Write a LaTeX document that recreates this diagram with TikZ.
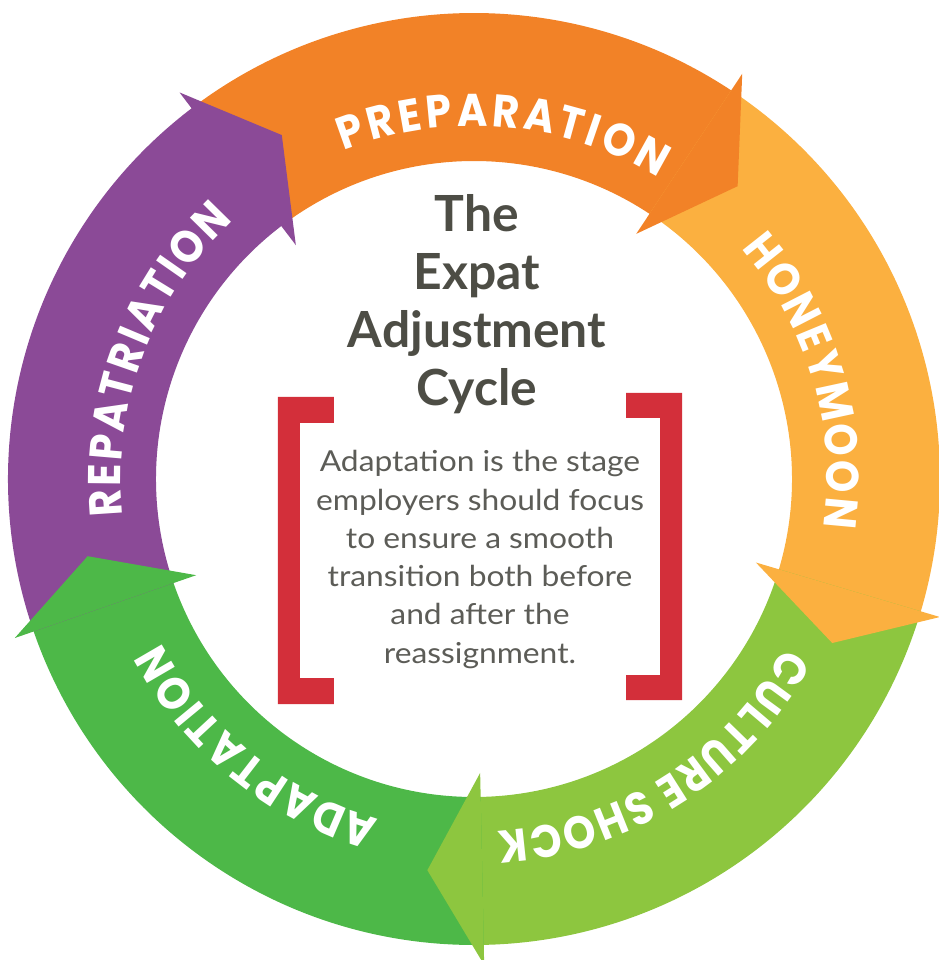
\documentclass[tikz,border=0pt]{standalone}
\usepackage{fontspec}
\usetikzlibrary{decorations.text}
\newfontfamily\ringfont{Poppins}[FakeStretch=0.9]
\newfontfamily\blurbfont{Lato}
\newfontfamily\notefont{Lato}[FakeStretch=1.1]

\definecolor{prepclr}{RGB}{242,130,39}
\definecolor{honeyclr}{RGB}{251,176,64}
\definecolor{shockclr}{RGB}{141,198,63}
\definecolor{adaptclr}{RGB}{77,184,72}
\definecolor{repatclr}{RGB}{139,74,151}
\definecolor{titleclr}{RGB}{77,77,69}
\definecolor{bodyclr}{RGB}{92,92,87}
\definecolor{bracketclr}{RGB}{211,47,58}

\begin{document}
\begin{tikzpicture}[x=1bp,y=1bp,
  titletext/.style={anchor=base, inner sep=0pt, text=titleclr,
    font=\blurbfont\bfseries\fontsize{50}{54}\selectfont},
  blurbtext/.style={anchor=base, inner sep=0pt, text=bodyclr,
    font=\notefont\fontsize{29}{32}\selectfont},
  bracket/.style={fill=bracketclr},
  ringlabel/.style={decorate, decoration={text along path,
    text={|\ringfont\bfseries\fontsize{46}{46}\selectfont|#1},
    text align=fit to path, text color=white}}
]
\useasboundingbox (-474,-481) rectangle (465,479);

% ring geometry (radii in bp)
\def\rin{318}
\def\rout{466}
\def\bin{294}
\def\bout{486}
\def\rtip{394}
\def\rtext{353}

% arrow shafts: start angle / head base angle / colour
\foreach \s/\e/\c in {127.3/56.5/prepclr, 56.5/-16.5/honeyclr,
                      -16.5/-88.8/shockclr, -88.8/-160.9/adaptclr,
                      199.1/127.3/repatclr}{
  \fill[\c] (\s:\rout) arc[start angle=\s, end angle=\e-0.5, radius=\rout]
    -- (\e-0.5:\rin) arc[start angle=\e-0.5, end angle=\s, radius=\rin] -- cycle;
}

% arrow heads: base angle / tip angle / colour
\foreach \b/\t/\c in {127.3/119.2/repatclr, 56.5/48.0/prepclr,
                      -16.5/-24.6/honeyclr, -88.8/-96.8/shockclr,
                      -160.9/-168.7/adaptclr}{
  \fill[\c] (\b:\bout) -- (\t:\rtip) -- (\b:\bin) -- cycle;
}

% stage names set along the ring, clockwise
\path[ringlabel=PREPARATION] (111.6:\rtext) arc[start angle=111.6, end angle=58.5, radius=\rtext];
\path[ringlabel=HONEYMOON] (40.8:\rtext) arc[start angle=40.8, end angle=-7.8, radius=\rtext];
\path[ringlabel=CULTURE SHOCK] (-28.5:\rtext) arc[start angle=-28.5, end angle=-86.2, radius=\rtext];
\path[ringlabel=ADAPTATION] (-105.6:\rtext) arc[start angle=-105.6, end angle=-152.3, radius=\rtext];
\path[ringlabel=REPATRIATION] (186:\rtext) arc[start angle=186, end angle=133, radius=\rtext];

% title
\foreach \txt [count=\i] in {The, Expat, Adjustment, Cycle}
  \node[titletext] (title-\i) at (3, {247-58*(\i-1)}) {\txt};

% brackets
\fill[bracket] (-196,82) -- (-140,82) -- (-140,56) -- (-174,56) -- (-174,-199)
  -- (-140,-199) -- (-140,-225) -- (-196,-225) -- cycle;
\fill[bracket] (208,86) -- (152,86) -- (152,61) -- (186,61) -- (186,-196)
  -- (152,-196) -- (152,-221) -- (208,-221) -- cycle;

% note between the brackets
\foreach \txt [count=\i] in {Adaptation is the stage, employers should focus,
    to ensure a smooth, transition both before, and after the, reassignment.}
  \node[blurbtext] (note-\i) at (6, {7-38.2*(\i-1)}) {\txt};
\end{tikzpicture}
\end{document}
